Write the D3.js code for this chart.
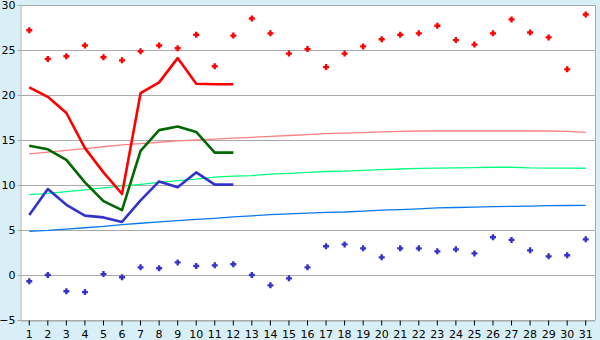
<!DOCTYPE html>
<html>
<head>
<meta charset="utf-8">
<script src="https://cdn.jsdelivr.net/npm/d3@7"></script>
<style>
  body { margin: 0; background: #d9eff7; }
  svg { display: block; }
  text { font-family: "DejaVu Sans", Verdana, sans-serif; font-size: 11px; fill: #000; }
</style>
</head>
<body>
<svg id="chart" width="600" height="340"></svg>
<script>
// Days of the month
const days = d3.range(1, 32).map(String);

// Daily observed max / min (points)
const dailyMax = [27.2, 24.0, 24.3, 25.5, 24.2, 23.85, 24.85, 25.5, 25.2, 26.7,
  23.2, 26.6, 28.5, 26.85, 24.6, 25.1, 23.1, 24.6, 25.4, 26.2,
  26.7, 26.85, 27.7, 26.1, 25.6, 26.85, 28.4, 26.95, 26.4, 22.85, 28.95];
const dailyMin = [-0.7, 0.0, -1.8, -1.9, 0.1, -0.25, 0.85, 0.75, 1.4, 1.0,
  1.07, 1.2, 0.0, -1.15, -0.37, 0.85, 3.2, 3.4, 2.96, 1.96,
  2.96, 2.96, 2.63, 2.85, 2.4, 4.19, 3.9, 2.74, 2.07, 2.2, 3.96];

// Thick lines, first 12 days only
const lineRed = [20.85, 19.8, 18.0, 14.1, 11.4, 9.0, 20.2, 21.4, 24.1, 21.25, 21.2, 21.2];
const lineGreen = [14.37, 13.97, 12.8, 10.3, 8.2, 7.2, 13.8, 16.1, 16.5, 15.9, 13.6, 13.6];
const lineBlue = [6.67, 9.55, 7.8, 6.6, 6.4, 5.9, 8.3, 10.4, 9.75, 11.4, 10.04, 10.04];

// Thin normal curves
const normalMax = [13.45, 13.65, 13.85, 14.05, 14.25, 14.45, 14.6, 14.75, 14.9, 15.0,
  15.1, 15.2, 15.3, 15.4, 15.5, 15.6, 15.7, 15.77, 15.83, 15.9,
  15.95, 16.0, 16.0, 16.0, 16.0, 16.0, 16.0, 16.0, 16.0, 15.95, 15.85];
const normalMean = [8.93, 9.08, 9.26, 9.45, 9.67, 9.9, 10.08, 10.3, 10.48, 10.65,
  10.88, 10.98, 11.05, 11.2, 11.3, 11.4, 11.5, 11.55, 11.62, 11.7,
  11.78, 11.85, 11.87, 11.9, 11.92, 11.97, 11.97, 11.9, 11.88, 11.87, 11.86];
const normalMin = [4.85, 4.95, 5.1, 5.25, 5.4, 5.6, 5.75, 5.9, 6.05, 6.18,
  6.3, 6.45, 6.58, 6.7, 6.8, 6.88, 6.95, 7.0, 7.1, 7.2,
  7.27, 7.35, 7.45, 7.5, 7.55, 7.6, 7.62, 7.65, 7.7, 7.72, 7.73];

const yTicks = [-5, 0, 5, 10, 15, 20, 25, 30];

// Plot area bounds
const plot = { left: 20, right: 595, top: 5, bottom: 320 };
const svg = d3.select("#chart");

const x = d3.scaleBand().domain(days).range([plot.left, plot.right]);
const y = d3.scaleLinear().domain([-5, 30]).range([plot.bottom, plot.top]);
const cx = d => x(d) + x.bandwidth() / 2;

// White plot background
svg.append("rect")
  .attr("x", plot.left).attr("y", plot.top)
  .attr("width", plot.right - plot.left).attr("height", plot.bottom - plot.top)
  .attr("fill", "#fff");

// Gridlines
svg.append("g").selectAll("line")
  .data(yTicks)
  .enter().append("line")
  .attr("x1", plot.left).attr("x2", plot.right)
  .attr("y1", d => Math.round(y(d)) + 0.5).attr("y2", d => Math.round(y(d)) + 0.5)
  .attr("stroke", "#aaa");

// Right border
svg.append("line")
  .attr("x1", plot.right + 0.5).attr("x2", plot.right + 0.5)
  .attr("y1", plot.top).attr("y2", plot.bottom)
  .attr("stroke", "#aaa");

// Y axis
const yAxis = svg.append("g")
  .attr("transform", `translate(${plot.left + 0.5},0)`)
  .call(d3.axisLeft(y).tickValues(yTicks).tickSize(3).tickPadding(2));
yAxis.selectAll("path, line").attr("stroke", "#aaa");
yAxis.selectAll("text").attr("font-size", 11).attr("font-family", null);

// X axis
const xAxis = svg.append("g")
  .attr("transform", `translate(0,${plot.bottom + 0.5})`)
  .call(d3.axisBottom(x).tickSize(5).tickSizeOuter(0).tickPadding(5));
xAxis.selectAll("path").attr("stroke", "#aaa");
xAxis.selectAll("line").attr("stroke", "#000");
xAxis.selectAll("text").attr("font-size", 11).attr("font-family", null);

// Lines
function drawLine(values, color, width, dayList) {
  const line = d3.line()
    .x((d, i) => cx(dayList[i]))
    .y(d => y(d));
  svg.append("path")
    .datum(values)
    .attr("d", line)
    .attr("fill", "none")
    .attr("stroke", color)
    .attr("stroke-width", width)
    .attr("stroke-linejoin", "round");
}

drawLine(normalMax, "#ff8080", 1.3, days);
drawLine(normalMean, "#00ff80", 1.3, days);
drawLine(normalMin, "#0a78f0", 1.3, days);
drawLine(lineRed, "#ff0000", 2.6, days.slice(0, 12));
drawLine(lineGreen, "#006800", 2.6, days.slice(0, 12));
drawLine(lineBlue, "#3333cc", 2.6, days.slice(0, 12));

// Points: chunky plus marker
const marker = "M-1.2,-3h2.4v1.8h1.8v2.4h-1.8v1.8h-2.4v-1.8h-1.8v-2.4h1.8z";
function drawPoints(values, color) {
  svg.append("g").selectAll("path")
    .data(values)
    .enter().append("path")
    .attr("d", marker)
    .attr("transform", (d, i) => `translate(${cx(days[i])},${y(d)})`)
    .attr("fill", color);
}
drawPoints(dailyMax, "#ff0000");
drawPoints(dailyMin, "#3333cc");
</script>
</body>
</html>
